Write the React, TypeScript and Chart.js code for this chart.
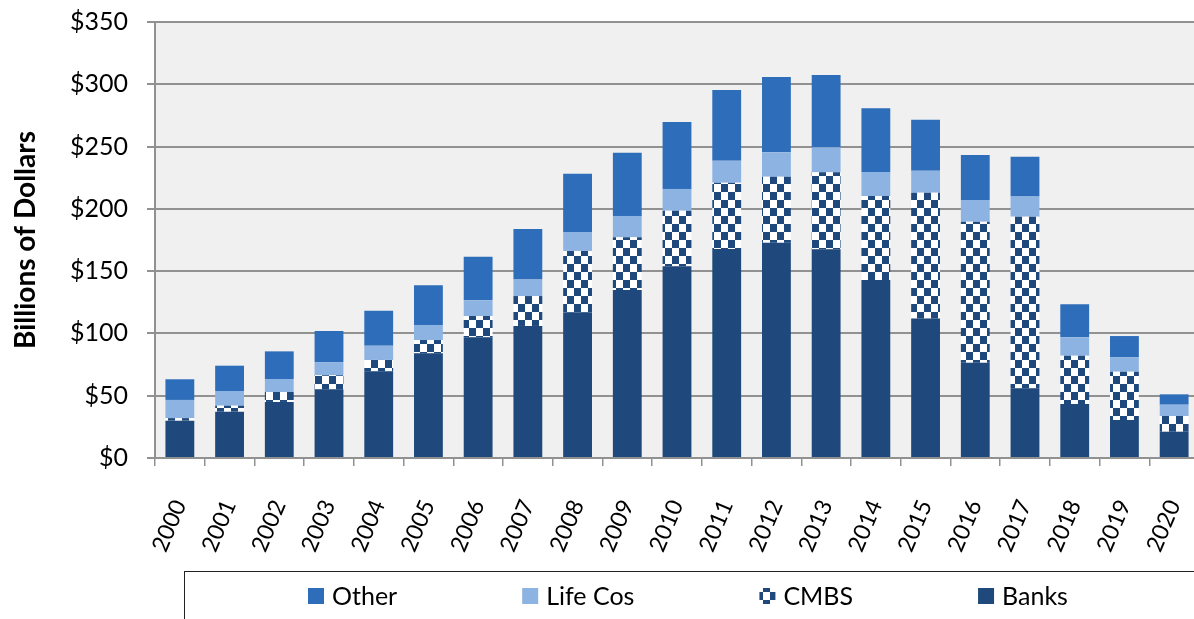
import React, { useEffect, useRef } from "react";
import { Chart, registerables } from "chart.js";

Chart.register(...registerables);

const years = ["2000", "2001", "2002", "2003", "2004", "2005", "2006", "2007", "2008", "2009", "2010", "2011", "2012", "2013", "2014", "2015", "2016", "2017", "2018", "2019", "2020"];
const banks = [30, 37.2, 45, 55.1, 69.6, 84, 96.9, 106, 117, 134.9, 154, 167.8, 172.8, 167.5, 142.9, 112, 76.5, 56, 43.3, 30.5, 21.1];
const cmbs = [2, 4.8, 8, 11.3, 9.1, 10.7, 17.1, 24, 49.2, 42.3, 44.5, 53.2, 53, 61.8, 67.4, 101, 113.2, 137.7, 38.8, 38.8, 12.6];
const lifeCos = [14.6, 11.8, 10.4, 10.6, 11.5, 12.1, 12.6, 13.2, 15.2, 17.1, 17.5, 17.7, 19.6, 20.1, 19.3, 17.6, 17.4, 16.3, 14.8, 11.5, 9.1];
const other = [16.6, 20.3, 22.2, 25, 28.1, 31.8, 35, 40.6, 46.8, 50.7, 53.7, 56.7, 60.5, 58.1, 51.1, 41, 36.1, 31.9, 26.5, 17.1, 8.3];
const yTicks = [0, 50, 100, 150, 200, 250, 300, 350];

const NAVY = "#1f497d";
const MID = "#2e6db9";
const LIGHT = "#8db3e2";
const GRID = "#919191";

function makeChecker(): CanvasPattern | string {
  const c = document.createElement("canvas");
  c.width = 14;
  c.height = 16;
  const g = c.getContext("2d");
  if (!g) return NAVY;
  g.fillStyle = "#ffffff";
  g.fillRect(0, 0, 14, 16);
  g.fillStyle = NAVY;
  g.fillRect(0, 0, 7, 8);
  g.fillRect(7, 8, 7, 8);
  const p = g.createPattern(c, "repeat");
  return p || NAVY;
}

const plotBg = {
  id: "plotBg",
  beforeDraw(chart: any) {
    const { ctx, chartArea } = chart;
    ctx.save();
    ctx.fillStyle = "#f0f0f0";
    ctx.fillRect(chartArea.left, chartArea.top, chartArea.right - chartArea.left, chartArea.bottom - chartArea.top);
    ctx.restore();
  },
};

const boxLegend = {
  id: "boxLegend",
  afterDraw(chart: any) {
    const ctx = chart.ctx;
    const top = chart.height - 48;
    const left = chart.chartArea.left + 29;
    ctx.save();
    ctx.strokeStyle = "#222";
    ctx.lineWidth = 1;
    ctx.strokeRect(left + 0.5, top + 0.5, chart.width, 100);
    ctx.font = "25px Lato";
    ctx.textBaseline = "middle";
    ctx.textAlign = "left";
    const items = [...chart.data.datasets].reverse();
    let x = left + 124;
    const cy = top + 25;
    items.forEach((ds: any) => {
      ctx.fillStyle = ds.backgroundColor;
      ctx.fillRect(x, cy - 8, 16, 16);
      ctx.fillStyle = "#000";
      ctx.fillText(ds.label, x + 24, cy + 1);
      x += 24 + ctx.measureText(ds.label).width + 125;
    });
    ctx.restore();
  },
};

export default function App() {
  const ref = useRef<HTMLCanvasElement>(null);
  useEffect(() => {
    document.body.style.margin = "0";
    const canvas = ref.current;
    if (!canvas) return;
    const checker = makeChecker();
    const chart = new Chart(canvas, {
      type: "bar",
      data: {
        labels: years,
        datasets: [
          { label: "Banks", data: banks, backgroundColor: NAVY },
          { label: "CMBS", data: cmbs, backgroundColor: checker as any },
          { label: "Life Cos", data: lifeCos, backgroundColor: LIGHT },
          { label: "Other", data: other, backgroundColor: MID },
        ],
      },
      options: {
        responsive: false,
        animation: false,
        devicePixelRatio: 1,
        layout: { padding: { left: 0, right: 0, top: 22, bottom: 0 } },
        datasets: { bar: { barPercentage: 0.58, categoryPercentage: 1 } },
        plugins: { legend: { display: false }, tooltip: { enabled: false } },
        scales: {
          x: {
            stacked: true,
            afterFit: (s: any) => { s.height = 161; s.paddingLeft = 0; s.paddingRight = 0; },
            grid: { display: true, drawOnChartArea: false, drawTicks: true, tickLength: 8, color: GRID, lineWidth: 1.5, offset: true },
            border: { display: true, color: GRID, width: 2 },
            ticks: {
              autoSkip: false,
              minRotation: 67,
              maxRotation: 67,
              padding: 30,
              color: "#000",
              font: { family: "Lato", size: 23 },
            },
          },
          y: {
            stacked: true,
            min: 0,
            max: 350,
            afterFit: (s: any) => { s.width = 155; s.paddingTop = 0; s.paddingBottom = 0; },
            afterBuildTicks: (s: any) => { s.ticks = yTicks.map((v) => ({ value: v })); },
            grid: { color: GRID, lineWidth: 2, tickLength: 8, drawTicks: true },
            border: { display: true, color: GRID, width: 2 },
            ticks: {
              padding: 19,
              color: "#000",
              font: { family: "Lato", size: 25 },
              callback: (v: any) => "$" + v,
            },
            title: {
              display: true,
              text: "Billions of Dollars",
              color: "#000",
              font: { family: "Lato", size: 28, weight: "bold" },
              padding: { top: 9, bottom: 0 },
            },
          },
        },
      },
      plugins: [plotBg, boxLegend],
    });
    return () => chart.destroy();
  }, []);
  return (
    <div style={{ position: "fixed", left: 0, top: 0, width: 1194, height: 619, overflow: "hidden", background: "#fff" }}>
      <canvas ref={ref} width={1199} height={619} style={{ display: "block", width: 1199, height: 619 }} />
    </div>
  );
}
